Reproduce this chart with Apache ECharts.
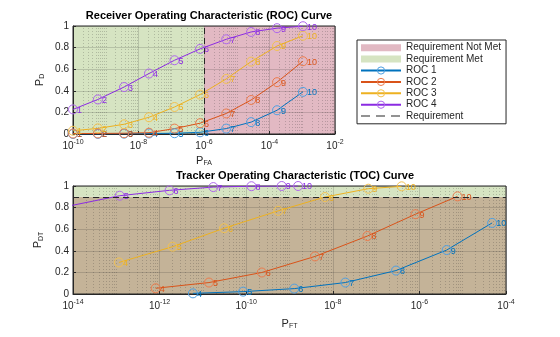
<!DOCTYPE html>
<html><head><meta charset="utf-8">
<script src="https://cdn.jsdelivr.net/npm/echarts@6/dist/echarts.min.js"></script>
<style>html,body{margin:0;padding:0;background:#fff}#c{width:560px;height:337px}</style>
</head><body><div id="c"></div>
<script>
// ---- ROC data (top) ----
const rocPfa = [1e-10, 5.75e-10, 3.63e-9, 2.09e-8, 1.26e-7, 7.59e-7, 4.79e-6, 2.75e-5, 1.70e-4, 1.05e-3];
const rocLabels = ['1','2','3','4','5','6','7','8','9','10'];
const roc1Pd = [0.000, 0.001, 0.003, 0.005, 0.007, 0.016, 0.05, 0.11, 0.22, 0.39];
const roc2Pd = [0.004, 0.005, 0.007, 0.012, 0.05, 0.10, 0.19, 0.315, 0.48, 0.674];
const roc3Pd = [0.03, 0.052, 0.09, 0.155, 0.25, 0.365, 0.51, 0.67, 0.815, 0.91];
const roc4Pd = [0.228, 0.32, 0.435, 0.56, 0.683, 0.788, 0.877, 0.945, 0.98, 0.998];

// ---- TOC data (bottom) ----
const toc1Pft = [5.89e-12, 8.51e-11, 1.29e-9, 1.95e-8, 2.88e-7, 4.27e-6, 4.79e-5];
const toc1Pdt = [0.006, 0.022, 0.05, 0.106, 0.217, 0.407, 0.658];
const toc1Labels = ['4','5','6','7','8','9','10'];
const toc2Pft = [8.13e-13, 1.38e-11, 2.29e-10, 3.89e-9, 6.31e-8, 8.13e-7, 7.59e-6];
const toc2Pdt = [0.053, 0.106, 0.199, 0.348, 0.537, 0.739, 0.904];
const toc2Labels = ['4','5','6','7','8','9','10'];
const toc3Pft = [1.15e-13, 2.0e-12, 3.09e-11, 5.5e-10, 6.61e-9, 6.61e-8, 3.89e-7];
const toc3Pdt = [0.292, 0.438, 0.609, 0.770, 0.898, 0.975, 0.997];
const toc3Labels = ['4','5','6','7','8','9','10'];
const toc4Pft = [3.98e-15, 1.2e-13, 1.7e-12, 1.74e-11, 1.32e-10, 6.61e-10, 1.58e-9];
const toc4Pdt = [0.79, 0.91, 0.96, 0.99, 0.998, 1.0, 1.0];
const toc4Labels = ['4','5','6','7','8','9','10'];

const seriesNames = ['ROC 1', 'ROC 2', 'ROC 3', 'ROC 4'];
const requirementPfa = 1e-6;
const requirementPdt = 0.9;

// ---- styles ----
const FONT = 'Liberation Sans, Arial, Helvetica, sans-serif';
const TXT = '#262626';
const lineColors = ['#0072BD', '#D95319', '#EDB120', '#8B2BE2'];
const markerColors = ['#4FA0E2', '#EC7B4C', '#F3C250', '#AE66EC'];
const greenBg = '#D6E4C2';
const pinkBg = '#E2B9C3';
const tanBg = '#C4B398';
const majorGrid = 'rgba(38,38,38,0.18)';
const minorGrid = 'rgba(38,38,38,0.22)';

const chart = echarts.init(document.getElementById('c'), null, {renderer: 'canvas'});

function minorValues(dMin, dMax) {
  const out = [];
  for (let d = dMin; d < dMax; d++) {
    if (Math.abs(d - dMin) % 2 === 1) out.push({xAxis: Math.pow(10, d)});
    for (let k = 2; k <= 9; k++) out.push({xAxis: k * Math.pow(10, d)});
  }
  return out;
}

const xLabelRich = {
  b: {fontSize: 10, fontFamily: FONT, color: TXT, lineHeight: 12, padding: [3, 0, 0, 0], verticalAlign: 'bottom'},
  s: {fontSize: 7, fontFamily: FONT, color: TXT, lineHeight: 8, verticalAlign: 'top'}
};
const nameRich = {
  p: {fontSize: 11, fontFamily: FONT, color: TXT, lineHeight: 12, verticalAlign: 'top'},
  sub: {fontSize: 7, fontFamily: FONT, color: TXT, lineHeight: 8, padding: [7, 0, 0, 0], verticalAlign: 'bottom'}
};

function xAxisDef(gridIndex, min, max, split, name, gap) {
  return {
    gridIndex, type: 'log', logBase: 100, min, max, splitNumber: split, z: 2,
    name, nameLocation: 'middle', nameGap: gap, nameTextStyle: {rich: nameRich},
    axisLine: {show: true, lineStyle: {color: TXT, width: 1}},
    axisTick: {show: true, inside: true, length: 3, lineStyle: {color: TXT}},
    axisLabel: {
      margin: 5,
      formatter: v => '{b|10}{s|' + Math.round(Math.log10(v)) + '}',
      rich: xLabelRich
    },
    splitLine: {show: true, lineStyle: {color: majorGrid, width: 1}}
  };
}
function yAxisDef(gridIndex, name) {
  return {
    gridIndex, type: 'value', min: 0, max: 1, interval: 0.2, z: 2,
    name, nameLocation: 'middle', nameGap: 27, nameTextStyle: {rich: nameRich},
    axisLine: {show: true, lineStyle: {color: TXT, width: 1}},
    axisTick: {show: true, inside: true, length: 3, lineStyle: {color: TXT}},
    axisLabel: {
      margin: 4, fontSize: 10, fontFamily: FONT, color: TXT,
      formatter: v => (v === 0 ? '0' : (v === 1 ? '1' : v.toFixed(1)))
    },
    splitLine: {show: true, lineStyle: {color: majorGrid, width: 1}}
  };
}

function curve(i, xs, ys, labels, idx) {
  return {
    name: seriesNames[i], type: 'line', xAxisIndex: idx, yAxisIndex: idx, z: 3,
    data: xs.map((x, k) => [x, ys[k]]),
    symbol: 'circle', symbolSize: 9, clip: true,
    lineStyle: {color: lineColors[i], width: 1},
    itemStyle: {color: 'rgba(0,0,0,0)', borderColor: markerColors[i], borderWidth: 1},
    label: {
      show: true, position: 'right', distance: -1, offset: [0, 1],
      fontSize: 9, fontFamily: FONT, color: lineColors[i],
      formatter: p => labels[p.dataIndex]
    },
    emphasis: {disabled: true}, animation: false
  };
}

function markLineSeries(name, idx, z, style, data) {
  return {name, type: 'line', xAxisIndex: idx, yAxisIndex: idx, data: [], symbol: 'none',
    lineStyle: {color: TXT, type: [8, 5], width: 1}, itemStyle: {color: TXT},
    markLine: {silent: true, z, precision: 20, symbol: 'none', label: {show: false}, animation: false,
      lineStyle: style, data}};
}

const series = [
  // backgrounds top
  {name: 'Requirement Not Met', type: 'line', xAxisIndex: 0, yAxisIndex: 0, data: [], z: 1,
   itemStyle: {color: pinkBg}, lineStyle: {color: pinkBg},
   markArea: {silent: true, z: 1, itemStyle: {color: pinkBg}, data: [[{xAxis: requirementPfa}, {xAxis: 1e-2}]]}},
  {name: 'Requirement Met', type: 'line', xAxisIndex: 0, yAxisIndex: 0, data: [], z: 1,
   itemStyle: {color: greenBg}, lineStyle: {color: greenBg},
   markArea: {silent: true, z: 1, itemStyle: {color: greenBg}, data: [[{xAxis: 1e-10}, {xAxis: requirementPfa}]]}},
  // backgrounds bottom
  {name: 'Requirement Not Met', type: 'line', xAxisIndex: 1, yAxisIndex: 1, data: [], z: 1,
   itemStyle: {color: pinkBg}, lineStyle: {color: pinkBg},
   markArea: {silent: true, z: 1, itemStyle: {color: tanBg}, data: [[{yAxis: 0}, {yAxis: requirementPdt}]]}},
  {name: 'Requirement Met', type: 'line', xAxisIndex: 1, yAxisIndex: 1, data: [], z: 1,
   itemStyle: {color: greenBg}, lineStyle: {color: greenBg},
   markArea: {silent: true, z: 1, itemStyle: {color: greenBg}, data: [[{yAxis: requirementPdt}, {yAxis: 1}]]}},
  // minor grids (dotted)
  markLineSeries('minorTop', 0, 2, {color: minorGrid, type: [1, 2], width: 1}, minorValues(-10, -2)),
  markLineSeries('minorBottom', 1, 2, {color: minorGrid, type: [1, 2], width: 1}, minorValues(-14, -4)),
  // curves
  curve(0, rocPfa, roc1Pd, rocLabels, 0),
  curve(1, rocPfa, roc2Pd, rocLabels, 0),
  curve(2, rocPfa, roc3Pd, rocLabels, 0),
  curve(3, rocPfa, roc4Pd, rocLabels, 0),
  curve(0, toc1Pft, toc1Pdt, toc1Labels, 1),
  curve(1, toc2Pft, toc2Pdt, toc2Labels, 1),
  curve(2, toc3Pft, toc3Pdt, toc3Labels, 1),
  curve(3, toc4Pft, toc4Pdt, toc4Labels, 1),
  // requirement lines
  markLineSeries('Requirement', 0, 4, {color: TXT, type: [6, 4], width: 1}, [{xAxis: requirementPfa}]),
  markLineSeries('Requirement', 1, 4, {color: TXT, type: [6, 4], width: 1}, [{yAxis: requirementPdt}])
];

const rectIcon = 'path://M0,0L0,0M40,9L40,9M0,1h40v7h-40z';
const dashIcon = 'path://M0,0L0,0M40,9L40,9M0,4h9v1h-9zM15,4h9v1h-9zM30,4h9v1h-9z';

chart.setOption({
  animation: false,
  backgroundColor: '#fff',
  textStyle: {fontFamily: FONT},
  title: [
    {text: 'Receiver Operating Characteristic (ROC) Curve', left: 204, top: 5, textAlign: 'center',
     textStyle: {fontSize: 11, fontWeight: 'bold', color: '#000', fontFamily: FONT}},
    {text: 'Tracker Operating Characteristic (TOC) Curve', left: 290, top: 165, textAlign: 'center',
     textStyle: {fontSize: 11, fontWeight: 'bold', color: '#000', fontFamily: FONT}}
  ],
  legend: {
    orient: 'vertical', left: 357, top: 40, padding: [2, 5, 2, 3],
    itemWidth: 40, itemHeight: 9, itemGap: 0,
    borderColor: TXT, borderWidth: 1, backgroundColor: '#fff',
    textStyle: {fontSize: 10, fontFamily: FONT, color: TXT, lineHeight: 11.4},
    data: [
      {name: 'Requirement Not Met', icon: rectIcon},
      {name: 'Requirement Met', icon: rectIcon},
      ...seriesNames.map((n, i) => ({name: n,
        itemStyle: {color: 'rgba(0,0,0,0)', borderColor: markerColors[i], borderWidth: 1}})),
      {name: 'Requirement', icon: dashIcon, itemStyle: {color: TXT}}
    ],
    selectedMode: false
  },
  grid: [
    {left: 73, top: 26, width: 262, height: 108, show: true, z: 3, backgroundColor: 'rgba(0,0,0,0)', borderColor: TXT, borderWidth: 1},
    {left: 73, top: 186, width: 433, height: 108, show: true, z: 3, backgroundColor: 'rgba(0,0,0,0)', borderColor: TXT, borderWidth: 1}
  ],
  xAxis: [
    xAxisDef(0, 1e-10, 1e-2, 4, '{p|P}{sub|FA}', 21),
    xAxisDef(1, 1e-14, 1e-4, 5, '{p|P}{sub|FT}', 24)
  ],
  yAxis: [
    yAxisDef(0, '{p|P}{sub|D}'),
    yAxisDef(1, '{p|P}{sub|DT}')
  ],
  series
});
</script></body></html>
